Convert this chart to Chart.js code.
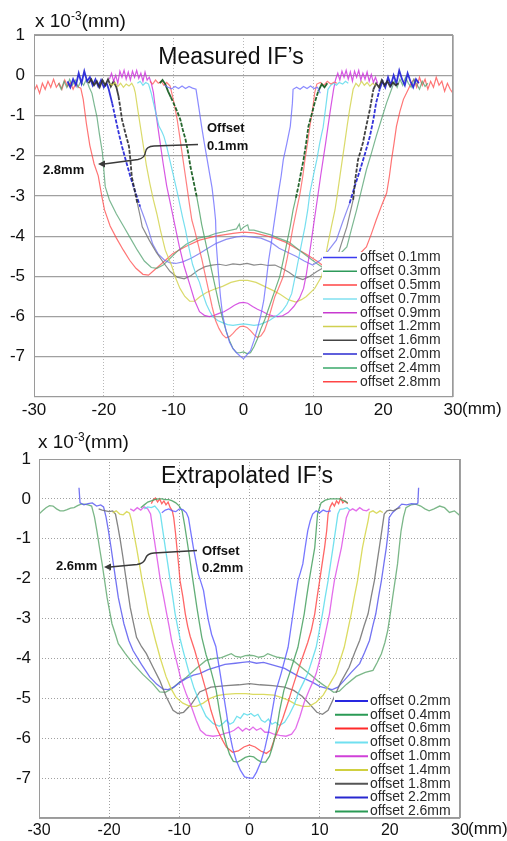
<!DOCTYPE html>
<html><head><meta charset="utf-8">
<script src="https://cdn.jsdelivr.net/npm/chart.js@4.4.0/dist/chart.umd.min.js"></script>
<style>
body{margin:0;background:#fff;width:507px;height:841px;position:relative;overflow:hidden;font-family:"Liberation Sans",Arial,sans-serif;color:#111;}
canvas{position:absolute;left:0;}
#c1{top:0;}
#c2{top:420px;}
.unit{position:absolute;font-size:19px;line-height:19px;white-space:nowrap;}
.unit sup{font-size:12px;vertical-align:7px;line-height:0;}
.mm{position:absolute;font-size:17px;line-height:17px;}
</style></head>
<body>
<canvas id="c1" width="507" height="420" style="width:507px;height:420px"></canvas>
<canvas id="c2" width="507" height="421" style="width:507px;height:421px"></canvas>
<div class="unit" style="left:35px;top:11px">x 10<sup>-3</sup>(mm)</div>
<div class="mm" style="left:462px;top:400px">(mm)</div>
<div class="unit" style="left:38px;top:432px">x 10<sup>-3</sup>(mm)</div>
<div class="mm" style="left:468px;top:820px">(mm)</div>
<script>
// ---------- axis ticks ----------
const xTickValues = [-30,-20,-10,0,10,20,30];
const yGridValues = [1,0,-1,-2,-3,-4,-5,-6,-7,-8];
const yTickLabels = [1,0,-1,-2,-3,-4,-5,-6,-7];

// ---------- Measured IF's (x in mm, y in 1e-3 mm) ----------
const M01 = [[-11.3,-0.25],[-10.8,-0.3],[-10.3,-0.34],[-9.8,-0.28],[-9.3,-0.33],[-8.8,-0.27],[-8.3,-0.33],[-7.8,-0.28],[-7.3,-0.32],[-6.8,-0.35],[-6.4,-0.8],[-6.0,-1.27],[-5.6,-1.7],[-5.2,-2.1],[-4.8,-2.5],[-4.5,-2.8],[-4.2,-3.25],[-4.0,-3.6],[-3.9,-4.2],[-3.6,-4.9],[-3.3,-5.5],[-3.0,-5.95],[-2.5,-6.35],[-2.0,-6.64],[-1.5,-6.8],[-1.0,-6.9],[-0.5,-6.98],[0,-7.05],[0.5,-6.95],[1.0,-6.85],[1.5,-6.6],[2.0,-6.3],[2.5,-5.95],[2.9,-5.6],[3.3,-5.05],[3.6,-4.6],[4.0,-4.15],[4.3,-3.77],[4.7,-3.3],[5.0,-2.93],[5.4,-2.5],[5.7,-2.1],[6.2,-1.7],[6.7,-1.27],[7.0,-0.7],[7.1,-0.35],[7.6,-0.3],[8.1,-0.35],[8.6,-0.28],[9.1,-0.33],[9.6,-0.27],[10.1,-0.33],[10.6,-0.3],[11.0,-0.45]];
const M03 = [[-12.0,-0.2],[-11.6,-0.12],[-11.2,-0.22],[-10.8,-0.4],[-10.4,-0.55],[-10.0,-0.7],[-9.5,-0.9],[-9.05,-1.1],[-8.7,-1.35],[-8.3,-1.6],[-7.9,-1.95],[-7.6,-2.27],[-7.2,-2.6],[-6.7,-3.02],[-6.3,-3.4],[-6.0,-3.7],[-5.5,-4.1],[-5.0,-4.5],[-4.5,-4.9],[-4.0,-5.3],[-3.5,-5.7],[-3.0,-6.05],[-2.5,-6.35],[-2.0,-6.6],[-1.5,-6.8],[-1.0,-6.9],[-0.5,-6.9],[0,-6.88],[0.5,-6.92],[1.0,-6.9],[1.5,-6.75],[2.0,-6.55],[2.5,-6.3],[3.0,-6.1],[3.5,-5.85],[4.0,-5.6],[4.6,-5.3],[5.2,-5.0],[5.7,-4.6],[6.2,-4.18],[6.7,-3.75],[7.1,-3.35],[7.5,-3.05],[7.85,-2.77],[8.2,-2.45],[8.6,-2.1],[9.0,-1.65],[9.3,-1.27],[9.8,-0.95],[10.2,-0.68],[10.7,-0.4],[11.2,-0.22],[11.6,-0.3],[12.0,-0.2]];
const M05 = [[-13.4,-0.15],[-13.0,-0.22],[-12.6,-0.12],[-12.2,-0.2],[-11.8,-0.15],[-11.4,-0.25],[-11.0,-0.18],[-10.5,-0.27],[-10.0,-0.65],[-9.5,-1.1],[-9.15,-1.5],[-8.8,-1.93],[-8.45,-2.35],[-8.1,-2.77],[-7.75,-3.2],[-7.4,-3.6],[-7.0,-3.85],[-6.5,-4.2],[-6.0,-4.55],[-5.5,-4.95],[-5.0,-5.35],[-4.5,-5.75],[-4.0,-6.1],[-3.5,-6.3],[-3.0,-6.45],[-2.5,-6.53],[-2.0,-6.5],[-1.5,-6.42],[-1.0,-6.32],[-0.5,-6.25],[0,-6.24],[0.5,-6.27],[1.0,-6.35],[1.5,-6.45],[2.0,-6.52],[2.5,-6.48],[3.0,-6.35],[3.5,-6.1],[4.0,-5.8],[4.5,-5.5],[5.0,-5.3],[5.7,-5.0],[6.2,-4.6],[6.7,-4.15],[7.1,-3.77],[7.6,-3.35],[8.1,-2.93],[8.5,-2.5],[8.8,-2.1],[9.2,-1.65],[9.5,-1.27],[9.9,-0.85],[10.2,-0.43],[10.5,-0.22],[11.0,-0.18],[11.5,-0.25],[12.0,-0.15],[12.5,-0.22],[13.0,-0.17],[13.4,-0.2]];
const M07 = [[-15.2,-0.2],[-14.8,-0.15],[-14.4,-0.25],[-14.0,-0.18],[-13.6,-0.22],[-13.2,-0.45],[-12.9,-0.68],[-12.5,-0.98],[-12.1,-1.27],[-11.7,-1.4],[-11.4,-1.52],[-11.0,-1.77],[-10.5,-2.15],[-10.0,-2.52],[-9.5,-2.9],[-9.05,-3.27],[-8.7,-3.55],[-8.3,-3.85],[-7.8,-4.3],[-7.3,-4.7],[-6.8,-4.95],[-6.3,-5.15],[-5.8,-5.45],[-5.3,-5.7],[-4.8,-5.88],[-4.4,-6.0],[-3.7,-6.1],[-3.0,-6.15],[-2.3,-6.2],[-1.5,-6.22],[-0.8,-6.2],[0,-6.18],[0.8,-6.2],[1.5,-6.22],[2.3,-6.2],[3.0,-6.15],[3.7,-6.1],[4.4,-6.02],[5.0,-5.95],[5.6,-5.85],[6.2,-5.7],[6.9,-5.43],[7.4,-5.0],[7.85,-4.6],[8.3,-4.2],[8.8,-3.77],[9.2,-3.35],[9.5,-2.93],[10.0,-2.5],[10.5,-2.1],[10.9,-1.7],[11.2,-1.45],[11.4,-1.3],[11.7,-0.9],[12.1,-0.35],[12.5,-0.25],[12.9,-0.2],[13.3,-0.25],[13.7,-0.18],[14.2,-0.22],[14.6,-0.15],[15.0,-0.2]];
const M09 = [[-19.2,-0.1],[-18.9,0.05],[-18.6,-0.15],[-18.3,0.0],[-18.0,-0.2],[-17.7,0.1],[-17.4,-0.05],[-17.1,0.12],[-16.8,-0.1],[-16.5,0.08],[-16.2,-0.12],[-15.9,0.1],[-15.6,-0.05],[-15.3,0.12],[-15.0,-0.08],[-14.7,0.05],[-14.4,-0.15],[-14.1,0.08],[-13.8,-0.12],[-13.5,-0.05],[-13.2,-0.2],[-12.9,-0.43],[-12.5,-1.0],[-12.0,-1.6],[-11.5,-2.2],[-11.0,-2.75],[-10.4,-3.25],[-9.8,-3.75],[-9.2,-4.25],[-8.5,-4.75],[-7.7,-5.2],[-7.0,-5.6],[-6.3,-5.88],[-5.6,-5.97],[-4.9,-6.0],[-4.2,-5.97],[-3.5,-5.92],[-2.8,-5.88],[-2.0,-5.8],[-1.3,-5.72],[-0.6,-5.66],[0,-5.65],[0.6,-5.67],[1.3,-5.75],[2.0,-5.82],[2.8,-5.88],[3.5,-5.95],[4.2,-5.98],[4.9,-6.0],[5.6,-5.98],[6.4,-5.9],[7.2,-5.75],[8.0,-5.55],[8.6,-5.3],[9.0,-4.95],[9.3,-4.6],[9.65,-4.2],[10.0,-3.77],[10.35,-3.35],[10.7,-2.93],[11.05,-2.5],[11.4,-2.1],[11.75,-1.7],[12.1,-1.27],[12.5,-0.8],[12.9,-0.35],[13.2,-0.1],[13.5,0.05],[13.8,-0.12],[14.1,0.1],[14.4,-0.05],[14.7,0.12],[15.0,-0.1],[15.3,0.08],[15.6,-0.15],[15.9,0.1],[16.2,-0.05],[16.5,0.12],[16.8,-0.12],[17.1,0.05],[17.4,-0.1],[17.7,0.08],[18.0,-0.15],[18.3,0.02],[18.6,-0.18],[18.9,-0.05],[19.2,-0.2]];
const M12 = [[-19.2,-0.2],[-18.8,-0.25],[-18.4,-0.18],[-18.0,-0.28],[-17.6,-0.2],[-17.2,-0.3],[-16.8,-0.22],[-16.4,-0.27],[-16.0,-0.2],[-15.7,-0.3],[-15.5,-0.43],[-15.1,-0.9],[-14.7,-1.35],[-14.3,-1.8],[-13.9,-2.25],[-13.4,-2.7],[-12.9,-3.1],[-12.4,-3.45],[-11.9,-3.85],[-11.2,-4.35],[-10.3,-4.73],[-9.7,-5.05],[-9.1,-5.3],[-8.4,-5.5],[-7.7,-5.62],[-7.0,-5.62],[-6.2,-5.5],[-5.3,-5.4],[-4.2,-5.32],[-3.0,-5.25],[-1.8,-5.15],[-0.6,-5.1],[0,-5.1],[0.6,-5.1],[1.8,-5.15],[3.0,-5.25],[4.2,-5.35],[5.3,-5.45],[6.4,-5.58],[7.5,-5.64],[8.3,-5.58],[9.0,-5.5],[10.2,-5.3],[11.2,-5.0],[12.1,-4.18],[12.6,-3.75],[13.1,-3.35],[13.45,-2.95],[13.8,-2.52],[14.15,-2.1],[14.5,-1.68],[14.85,-1.25],[15.2,-0.85],[15.7,-0.35],[16.1,-0.2],[16.5,-0.28],[16.9,-0.15],[17.3,-0.25],[17.7,-0.18],[18.1,-0.27],[18.5,-0.2],[18.9,-0.25]];
const M16 = [[-22.2,-0.2],[-21.8,-0.1],[-21.4,-0.25],[-21.0,-0.15],[-20.6,-0.3],[-20.2,-0.12],[-19.8,-0.25],[-19.4,-0.1],[-19.0,-0.28],[-18.6,-0.15],[-18.2,-0.3],[-17.9,-0.52],[-17.65,-0.8],[-17.4,-1.1],[-16.9,-1.45],[-16.4,-1.77],[-16.2,-2.1],[-16.0,-2.52],[-15.6,-2.85],[-15.2,-3.18],[-14.8,-3.5],[-14.5,-3.77],[-13.5,-4.1],[-12.5,-4.4],[-11.5,-4.65],[-10.5,-4.88],[-9.5,-5.02],[-8.5,-5.06],[-7.5,-4.98],[-6.5,-4.85],[-5.5,-4.76],[-4.5,-4.72],[-3.5,-4.7],[-2.5,-4.73],[-1.5,-4.69],[-0.5,-4.71],[0.5,-4.68],[1.5,-4.72],[2.5,-4.7],[3.5,-4.73],[4.5,-4.72],[5.5,-4.8],[6.5,-4.9],[7.5,-5.02],[8.5,-5.08],[9.5,-5.0],[10.5,-4.88],[11.5,-4.78],[12.5,-4.72],[13.3,-4.6],[14.0,-4.2],[14.8,-3.77],[15.3,-3.4],[15.7,-3.1],[16.0,-2.6],[16.4,-2.1],[16.75,-1.9],[17.1,-1.68],[17.6,-1.25],[18.1,-0.85],[18.6,-0.35],[19.0,-0.2],[19.4,-0.3],[19.8,-0.12],[20.2,-0.25],[20.6,-0.15],[21.0,-0.28],[21.4,-0.18],[21.8,-0.25],[22.2,-0.2]];
const M20 = [[-25.2,-0.15],[-24.8,-0.3],[-24.4,-0.1],[-24.0,-0.25],[-23.6,0.05],[-23.2,-0.2],[-22.8,0.1],[-22.4,-0.15],[-22.0,-0.05],[-21.6,-0.25],[-21.2,-0.1],[-20.8,-0.28],[-20.4,-0.12],[-20.0,-0.3],[-19.6,-0.2],[-19.3,-0.35],[-18.8,-0.7],[-18.3,-1.1],[-17.85,-1.45],[-17.4,-1.77],[-16.8,-2.15],[-16.2,-2.52],[-15.5,-2.9],[-14.8,-3.27],[-14.2,-3.55],[-13.6,-3.85],[-13.0,-4.2],[-12.2,-4.45],[-11.3,-4.6],[-10.6,-4.66],[-9.7,-4.68],[-8.7,-4.64],[-7.5,-4.55],[-6.3,-4.43],[-5.1,-4.3],[-3.9,-4.18],[-2.5,-4.08],[-1.0,-4.02],[0,-4.0],[1.0,-4.02],[2.5,-4.05],[3.9,-4.15],[5.1,-4.3],[6.3,-4.4],[7.5,-4.5],[8.7,-4.62],[9.9,-4.72],[11.0,-4.6],[12.2,-4.35],[13.3,-4.1],[14.2,-3.65],[15.2,-3.18],[15.95,-2.75],[16.7,-2.35],[17.4,-1.95],[18.1,-1.52],[18.6,-1.1],[19.0,-0.68],[19.5,-0.35],[19.9,-0.15],[20.3,-0.3],[20.7,-0.05],[21.1,-0.25],[21.5,0.0],[21.9,-0.2],[22.3,0.12],[22.7,-0.1],[23.1,-0.25],[23.5,0.05],[23.9,-0.15],[24.3,-0.3],[24.7,-0.1],[25.1,-0.2]];
const M24 = [[-26.5,-0.2],[-26.1,-0.35],[-25.7,-0.15],[-25.3,-0.3],[-24.9,-0.1],[-24.5,-0.25],[-24.1,-0.12],[-23.7,-0.3],[-23.3,-0.15],[-22.9,-0.25],[-22.5,-0.1],[-22.1,-0.3],[-21.7,-0.45],[-21.35,-0.75],[-21.0,-1.02],[-20.6,-1.5],[-20.2,-1.93],[-20.0,-2.35],[-19.8,-2.77],[-19.2,-3.1],[-18.2,-3.45],[-17.2,-3.75],[-16.2,-4.05],[-15.2,-4.35],[-14.2,-4.62],[-13.2,-4.78],[-12.4,-4.8],[-11.5,-4.72],[-10.5,-4.55],[-9.3,-4.35],[-8.2,-4.2],[-6.5,-4.05],[-5.0,-4.0],[-3.9,-3.93],[-2.5,-3.88],[-1.0,-3.82],[-0.6,-3.7],[-0.4,-3.85],[0,-3.78],[0.6,-3.72],[0.8,-3.85],[1.5,-3.85],[2.5,-3.9],[3.9,-3.97],[5.0,-4.05],[6.5,-4.15],[8.0,-4.35],[9.5,-4.55],[10.5,-4.68],[11.5,-4.8],[12.5,-4.7],[13.5,-4.5],[14.8,-4.27],[15.5,-3.8],[16.2,-3.35],[16.9,-2.85],[17.6,-2.35],[18.3,-1.95],[19.0,-1.52],[19.75,-1.1],[20.5,-0.68],[21.2,-0.35],[21.6,-0.15],[22.0,-0.3],[22.4,-0.1],[22.8,-0.25],[23.2,-0.05],[23.6,-0.2],[24.0,-0.3],[24.4,-0.1],[24.8,-0.22],[25.2,-0.35],[25.6,-0.15],[26.0,-0.28],[26.4,-0.2]];
const M28 = [[-30.0,-0.4],[-29.6,-0.25],[-29.2,-0.45],[-28.8,-0.2],[-28.4,-0.35],[-28.0,-0.15],[-27.6,-0.3],[-27.2,-0.1],[-26.8,-0.3],[-26.4,-0.2],[-26.0,-0.35],[-25.6,-0.12],[-25.2,-0.28],[-24.8,-0.18],[-24.4,-0.35],[-24.0,-0.2],[-23.6,-0.3],[-23.3,-0.32],[-22.95,-0.6],[-22.5,-1.2],[-22.0,-1.75],[-21.4,-2.2],[-20.8,-2.5],[-20.3,-3.0],[-19.9,-3.35],[-19.1,-3.75],[-18.2,-4.05],[-17.2,-4.35],[-16.3,-4.6],[-15.4,-4.8],[-14.4,-4.95],[-13.6,-4.97],[-12.8,-4.85],[-11.5,-4.65],[-10.1,-4.43],[-8.2,-4.25],[-6.3,-4.1],[-4.0,-4.0],[-1.5,-3.93],[0,-3.9],[1.5,-3.92],[3.0,-3.98],[4.5,-4.05],[6.0,-4.15],[7.5,-4.3],[9.0,-4.45],[10.5,-4.62],[11.5,-4.75],[12.3,-4.85],[13.3,-4.9],[14.5,-4.8],[16.0,-4.55],[17.6,-4.27],[18.3,-3.95],[19.0,-3.6],[19.75,-3.25],[20.5,-2.93],[20.9,-2.5],[21.2,-2.1],[21.55,-1.7],[21.9,-1.27],[22.4,-0.9],[22.9,-0.6],[23.6,-0.35],[24.0,-0.2],[24.4,-0.1],[24.8,-0.3],[25.2,-0.05],[25.6,-0.25],[26.0,-0.1],[26.4,-0.35],[26.8,-0.15],[27.2,-0.3],[27.6,-0.05],[28.0,-0.25],[28.4,-0.15],[28.8,-0.4],[29.2,-0.2],[29.6,-0.35],[30.0,-0.45]];

// ---------- Extrapolated IF's ----------
const E02 = [[-12.5,-0.35],[-12.0,-0.28],[-11.5,-0.25],[-11.0,-0.3],[-10.5,-0.32],[-10.0,-0.25],[-9.5,-0.27],[-9.0,-0.35],[-8.7,-0.47],[-8.35,-0.85],[-8.0,-1.22],[-7.65,-1.55],[-7.3,-1.88],[-6.9,-2.1],[-6.55,-2.3],[-6.2,-2.7],[-5.85,-3.05],[-5.4,-3.4],[-4.8,-3.7],[-4.3,-4.25],[-3.8,-4.8],[-3.3,-5.35],[-2.85,-5.88],[-2.4,-6.25],[-1.9,-6.55],[-1.3,-6.8],[-0.7,-6.97],[0,-7.0],[0.5,-7.0],[1.0,-6.85],[1.6,-6.6],[2.2,-6.25],[2.7,-5.85],[3.2,-5.35],[3.7,-4.85],[4.5,-4.38],[5.0,-4.05],[5.5,-3.72],[5.85,-3.3],[6.2,-2.88],[6.55,-2.45],[6.9,-2.05],[7.25,-1.85],[7.6,-1.63],[7.95,-1.2],[8.3,-0.8],[8.65,-0.55],[9.0,-0.38],[9.5,-0.3],[10.0,-0.35],[10.5,-0.28],[11.0,-0.32],[11.6,-0.3]];
const E04 = [[-15.5,-0.22],[-15.0,-0.15],[-14.5,-0.08],[-14.0,-0.05],[-13.5,-0.02],[-13.0,0.0],[-12.5,0.0],[-12.0,-0.02],[-11.5,-0.02],[-11.0,-0.05],[-10.5,-0.1],[-10.0,-0.18],[-9.6,-0.3],[-9.25,-0.65],[-8.9,-1.05],[-8.55,-1.45],[-8.2,-1.88],[-7.85,-2.3],[-7.5,-2.72],[-7.15,-3.1],[-6.8,-3.47],[-6.2,-3.9],[-5.5,-4.3],[-4.75,-4.8],[-4.3,-5.3],[-3.8,-5.8],[-3.3,-6.15],[-2.85,-6.4],[-2.3,-6.58],[-1.7,-6.6],[-1.2,-6.55],[-0.6,-6.48],[0,-6.45],[0.6,-6.47],[1.2,-6.55],[1.7,-6.6],[2.3,-6.6],[2.85,-6.45],[3.3,-6.2],[3.8,-5.85],[4.3,-5.3],[4.9,-4.8],[5.7,-4.38],[6.3,-4.05],[6.9,-3.72],[7.35,-3.3],[7.8,-2.88],[8.15,-2.45],[8.5,-2.05],[8.9,-1.63],[9.3,-1.22],[9.5,-0.8],[9.7,-0.38],[10.2,-0.1],[10.8,-0.03],[11.5,0.0],[12.2,0.0],[12.8,0.0],[13.5,-0.05],[14.0,-0.1]];
const E06 = [[-14.0,-0.12],[-13.7,-0.02],[-13.4,0.02],[-13.1,-0.08],[-12.8,0.0],[-12.5,-0.12],[-12.2,-0.05],[-11.9,-0.15],[-11.6,-0.08],[-11.3,-0.22],[-11.0,-0.3],[-10.8,-0.47],[-10.55,-0.85],[-10.35,-1.22],[-10.1,-1.65],[-9.9,-2.05],[-9.5,-2.45],[-9.15,-2.88],[-8.8,-3.2],[-8.45,-3.45],[-7.8,-3.8],[-7.0,-4.3],[-6.2,-4.8],[-5.5,-5.3],[-4.75,-5.72],[-4.0,-6.0],[-3.3,-6.22],[-2.4,-6.35],[-1.6,-6.32],[-0.8,-6.22],[0,-6.17],[0.8,-6.22],[1.6,-6.32],[2.4,-6.38],[3.0,-6.3],[3.6,-6.0],[4.2,-5.75],[4.75,-5.5],[5.5,-5.1],[6.15,-4.72],[7.1,-4.2],[7.7,-3.9],[8.3,-3.6],[8.8,-3.3],[9.3,-2.88],[9.65,-2.45],[10.0,-2.05],[10.35,-1.63],[10.7,-1.22],[11.0,-0.8],[11.2,-0.38],[11.5,-0.2],[11.8,-0.1],[12.1,-0.18],[12.4,-0.05],[12.7,-0.12],[13.0,0.02],[13.3,-0.1],[13.6,-0.05],[14.0,-0.12]];
const E08 = [[-15.0,-0.25],[-14.5,-0.2],[-14.0,-0.22],[-13.5,-0.18],[-13.0,-0.28],[-12.7,-0.38],[-12.35,-0.8],[-12.0,-1.22],[-11.65,-1.63],[-11.3,-2.05],[-10.95,-2.45],[-10.6,-2.88],[-10.25,-3.2],[-9.9,-3.5],[-9.4,-3.85],[-8.7,-4.3],[-7.9,-4.75],[-7.0,-5.15],[-6.2,-5.45],[-5.2,-5.63],[-4.3,-5.7],[-3.7,-5.62],[-3.3,-5.55],[-2.8,-5.65],[-2.3,-5.6],[-1.8,-5.45],[-1.3,-5.5],[-0.8,-5.38],[-0.3,-5.42],[0.2,-5.38],[0.7,-5.45],[1.2,-5.4],[1.7,-5.55],[2.2,-5.6],[2.7,-5.52],[3.2,-5.65],[3.7,-5.6],[4.3,-5.68],[5.0,-5.6],[5.7,-5.4],[6.4,-5.15],[7.0,-4.85],[7.7,-4.6],[8.3,-4.38],[8.9,-4.05],[9.5,-3.72],[9.95,-3.3],[10.4,-2.88],[10.8,-2.45],[11.2,-2.05],[11.55,-1.63],[11.9,-1.22],[12.25,-0.8],[12.6,-0.38],[12.9,-0.26],[13.4,-0.25],[13.9,-0.22],[14.3,-0.28]];
const E10 = [[-17.0,-0.25],[-16.5,-0.3],[-16.0,-0.22],[-15.5,-0.28],[-15.0,-0.2],[-14.5,-0.25],[-14.1,-0.38],[-13.75,-0.8],[-13.4,-1.22],[-13.05,-1.63],[-12.7,-2.05],[-12.25,-2.45],[-11.8,-2.88],[-11.45,-3.2],[-11.1,-3.55],[-10.5,-4.0],[-9.8,-4.5],[-9.0,-4.9],[-8.3,-5.2],[-7.6,-5.55],[-7.0,-5.8],[-6.2,-5.92],[-5.2,-5.95],[-4.3,-5.93],[-3.5,-5.88],[-2.8,-5.85],[-2.2,-5.8],[-1.6,-5.72],[-1.0,-5.82],[-0.5,-5.75],[0,-5.8],[0.5,-5.72],[1.0,-5.8],[1.6,-5.75],[2.2,-5.85],[2.8,-5.85],[3.5,-5.9],[4.3,-5.93],[5.2,-5.95],[6.0,-5.9],[6.6,-5.75],[7.2,-5.45],[7.8,-5.1],[8.5,-4.8],[9.0,-4.6],[9.5,-4.38],[10.0,-4.05],[10.4,-3.72],[10.9,-3.3],[11.4,-2.88],[11.75,-2.45],[12.1,-2.05],[12.6,-1.63],[13.1,-1.22],[13.45,-0.85],[13.8,-0.47],[14.2,-0.3],[14.7,-0.25],[15.2,-0.3],[15.7,-0.22],[16.2,-0.28],[16.7,-0.3],[17.1,-0.25]];
const E14 = [[-19.5,-0.35],[-19.0,-0.3],[-18.5,-0.38],[-18.0,-0.4],[-17.5,-0.32],[-17.1,-0.36],[-16.8,-0.55],[-16.45,-0.9],[-16.1,-1.22],[-15.7,-1.63],[-15.3,-2.05],[-14.85,-2.45],[-14.4,-2.88],[-13.9,-3.2],[-13.4,-3.55],[-12.7,-4.0],[-11.9,-4.45],[-11.2,-4.75],[-10.5,-4.97],[-9.5,-5.12],[-8.5,-5.2],[-7.6,-5.2],[-6.6,-5.12],[-5.6,-5.0],[-4.6,-4.93],[-3.5,-4.9],[-2.0,-4.88],[-0.5,-4.88],[0.5,-4.9],[2.0,-4.9],[3.5,-4.92],[4.6,-4.98],[5.6,-5.05],[6.6,-5.15],[7.6,-5.2],[8.5,-5.2],[9.5,-5.1],[10.5,-4.92],[11.4,-4.65],[12.3,-4.38],[12.9,-4.05],[13.5,-3.72],[14.0,-3.3],[14.5,-2.88],[14.95,-2.45],[15.4,-2.05],[15.75,-1.63],[16.1,-1.22],[16.5,-0.88],[16.9,-0.55],[17.1,-0.34],[17.6,-0.3],[18.1,-0.36],[18.6,-0.3],[19.0,-0.34]];
const E18 = [[-21.5,-0.25],[-21.0,-0.28],[-20.5,-0.3],[-20.0,-0.32],[-19.5,-0.3],[-19.1,-0.38],[-18.75,-0.7],[-18.4,-1.05],[-18.05,-1.45],[-17.7,-1.88],[-17.35,-2.3],[-17.0,-2.72],[-16.55,-3.1],[-16.1,-3.47],[-15.4,-3.7],[-14.7,-3.88],[-13.8,-4.2],[-12.8,-4.55],[-11.9,-4.95],[-10.9,-5.3],[-10.2,-5.38],[-9.4,-5.35],[-8.3,-5.15],[-7.1,-4.84],[-5.5,-4.72],[-3.3,-4.68],[-1.5,-4.66],[0,-4.63],[1.5,-4.66],[3.3,-4.68],[5.0,-4.72],[6.3,-4.8],[7.5,-4.95],[8.6,-5.15],[9.6,-5.35],[10.4,-5.4],[11.2,-5.3],[12.0,-5.0],[13.0,-4.6],[14.2,-4.22],[15.0,-3.85],[15.7,-3.55],[16.3,-3.2],[16.9,-2.88],[17.35,-2.45],[17.8,-2.05],[18.15,-1.63],[18.5,-1.22],[18.85,-0.8],[19.2,-0.38],[19.6,-0.3],[20.0,-0.28],[20.5,-0.3],[21.0,-0.25],[21.5,-0.22]];
const E22 = [[-24.3,0.28],[-24.15,-0.1],[-23.6,-0.15],[-23.0,-0.12],[-22.4,-0.1],[-21.8,-0.18],[-21.2,-0.15],[-20.8,-0.2],[-20.45,-0.45],[-20.1,-0.8],[-19.75,-1.2],[-19.4,-1.63],[-19.05,-2.05],[-18.7,-2.47],[-18.3,-2.8],[-17.9,-3.13],[-17.2,-3.55],[-16.6,-3.8],[-15.4,-4.15],[-14.2,-4.47],[-13.2,-4.65],[-12.3,-4.77],[-11.6,-4.78],[-10.8,-4.72],[-9.9,-4.6],[-9.0,-4.5],[-8.0,-4.42],[-7.1,-4.38],[-5.9,-4.28],[-4.75,-4.22],[-3.5,-4.15],[-2.0,-4.12],[-1.0,-4.1],[0,-4.08],[1.0,-4.12],[2.0,-4.1],[3.0,-4.15],[4.0,-4.2],[5.0,-4.25],[6.0,-4.35],[7.0,-4.45],[8.0,-4.52],[9.0,-4.6],[10.0,-4.7],[11.0,-4.75],[11.8,-4.78],[12.6,-4.72],[13.5,-4.55],[14.5,-4.35],[15.7,-4.13],[16.4,-3.85],[17.1,-3.55],[17.55,-3.2],[18.0,-2.88],[18.4,-2.45],[18.8,-2.05],[19.15,-1.63],[19.5,-1.22],[19.75,-0.85],[19.9,-0.47],[20.4,-0.34],[21.0,-0.25],[21.7,-0.13],[22.4,-0.15],[23.1,-0.12],[23.8,-0.13],[24.0,-0.1],[24.1,0.28]];
const E26 = [[-30.0,-0.38],[-29.5,-0.3],[-29.0,-0.22],[-28.5,-0.17],[-28.0,-0.18],[-27.5,-0.25],[-27.0,-0.3],[-26.5,-0.3],[-26.0,-0.27],[-25.5,-0.23],[-25.0,-0.22],[-24.5,-0.17],[-24.0,-0.13],[-23.5,-0.13],[-23.0,-0.15],[-22.5,-0.18],[-22.1,-0.45],[-21.75,-0.8],[-21.4,-1.2],[-21.0,-1.63],[-20.65,-2.05],[-20.3,-2.47],[-19.95,-2.8],[-19.6,-3.13],[-19.1,-3.4],[-18.7,-3.63],[-17.7,-3.88],[-16.6,-4.13],[-15.2,-4.4],[-13.8,-4.63],[-12.8,-4.84],[-12.0,-4.85],[-11.0,-4.75],[-10.0,-4.6],[-9.0,-4.47],[-7.6,-4.25],[-6.2,-4.05],[-5.0,-4.0],[-4.0,-3.98],[-3.3,-3.93],[-2.6,-3.88],[-2.0,-3.95],[-1.3,-3.97],[-0.6,-3.93],[0,-3.92],[0.6,-3.93],[1.3,-3.97],[2.0,-3.95],[2.6,-3.88],[3.3,-3.93],[4.0,-3.97],[5.0,-4.0],[6.2,-4.05],[7.6,-4.25],[9.0,-4.45],[10.0,-4.6],[11.0,-4.72],[12.0,-4.85],[12.8,-4.82],[13.8,-4.65],[15.2,-4.45],[16.5,-4.35],[17.6,-4.3],[18.2,-4.1],[18.8,-3.88],[19.3,-3.6],[19.7,-3.3],[20.05,-2.9],[20.4,-2.47],[20.75,-2.05],[21.1,-1.63],[21.35,-1.2],[21.6,-0.8],[21.95,-0.45],[22.3,-0.22],[23.0,-0.15],[23.7,-0.13],[24.4,-0.18],[25.0,-0.25],[25.6,-0.3],[26.3,-0.25],[27.1,-0.18],[27.8,-0.22],[28.5,-0.34],[29.2,-0.3],[30.0,-0.42]];

const topLabels = ['offset 0.1mm','offset 0.3mm','offset 0.5mm','offset 0.7mm','offset 0.9mm','offset 1.2mm','offset 1.6mm','offset 2.0mm','offset 2.4mm','offset 2.8mm'];
const topSeries = [M01,M03,M05,M07,M09,M12,M16,M20,M24,M28];
const botLabels = ['offset 0.2mm','offset 0.4mm','offset 0.6mm','offset 0.8mm','offset 1.0mm','offset 1.4mm','offset 1.8mm','offset 2.2mm','offset 2.6mm'];
const botSeries = [E02,E04,E06,E08,E10,E14,E18,E22,E26];

// ---------- styles ----------
const topColors = ['rgba(110,110,255,0.8)','rgba(75,160,100,0.8)','rgba(255,85,85,0.75)','rgba(85,215,235,0.8)','rgba(205,45,220,0.8)','rgba(212,212,80,0.85)','rgba(110,110,110,0.8)','rgba(115,115,240,0.8)','rgba(80,160,110,0.75)','rgba(255,70,70,0.75)'];
const topDarkColors = [null,'rgba(25,95,35,0.95)',null,null,null,null,'rgba(45,45,45,0.9)','rgba(30,30,215,0.9)',null,null];
const topLegColors = ['#3c3cf0','#2e9a5a','#ff4545','#80e0f0','#c83ad0','#d0d050','#444444','#2a2ad0','#3aa86a','#ff4545'];
const topWidths = [1.2,1.2,1.2,1.2,1.2,1.2,1.2,1.2,1.2,1.2];
const botColors = ['rgba(95,95,255,0.85)','rgba(70,160,95,0.85)','rgba(255,75,75,0.85)','rgba(90,220,235,0.85)','rgba(222,85,232,0.85)','rgba(215,215,80,0.9)','rgba(110,110,110,0.85)','rgba(90,90,240,0.85)','rgba(100,170,115,0.85)'];
const botDarkColors = [null,null,null,null,null,null,null,null,null];
const botLegColors = ['#2828e0','#2a9a55','#ff2a2a','#70e0f0','#d040d8','#d0d040','#555555','#2828d0','#2a9a55'];
const botWidths = [1.3,1.3,1.3,1.3,1.3,1.3,1.3,1.3,1.3];

function arrowHead(ctx,x,y){ctx.beginPath();ctx.moveTo(x,y);ctx.lineTo(x+7,y-3.5);ctx.lineTo(x+7,y+3.5);ctx.closePath();ctx.fill();}

function makeDecor(cfg){
  return {
    id:'decor',
    afterDatasetsDraw(chart){
      const ctx=chart.ctx, a=chart.chartArea;
      ctx.save();
      ctx.fillStyle='#fff';
      ctx.fillRect(cfg.legX, cfg.legY, a.right-cfg.legX-1, a.bottom-cfg.legY-1);
      ctx.font='14px "Liberation Sans", Arial, sans-serif';
      ctx.textBaseline='middle';
      chart.data.datasets.forEach((d,i)=>{
        const y=cfg.row0+i*cfg.rowH;
        ctx.strokeStyle=d.legendColor; ctx.lineWidth=cfg.legLW;
        ctx.beginPath(); ctx.moveTo(cfg.lx0,y); ctx.lineTo(cfg.lx1,y); ctx.stroke();
        ctx.fillStyle='#2a2a2a'; ctx.textAlign='left';
        ctx.fillText(d.label, cfg.tx, y);
      });
      ctx.strokeStyle='#9a9a9a'; ctx.lineWidth=1;
      ctx.strokeRect(a.left+0.5,a.top+0.5,a.width-1,a.height-1);
      ctx.fillStyle='#111'; ctx.textAlign='center';
      ctx.font='23px "Liberation Sans", Arial, sans-serif';
      ctx.fillText(cfg.title, cfg.titleX, cfg.titleY);
      ctx.strokeStyle='#3a3a3a'; ctx.fillStyle='#3a3a3a'; ctx.lineWidth=1.4;
      const p=cfg.arrow;
      ctx.beginPath(); ctx.moveTo(p[0],p[1]); ctx.lineTo(p[2],p[3]);
      ctx.quadraticCurveTo(p[4],p[5],p[6],p[7]);
      ctx.quadraticCurveTo(p[8],p[9],p[10],p[11]);
      ctx.lineTo(p[12]+6,p[13]); ctx.stroke();
      arrowHead(ctx,p[12],p[13]);
      ctx.fillStyle='#111'; ctx.textAlign='left';
      ctx.font='bold 13px "Liberation Sans", Arial, sans-serif';
      cfg.notes.forEach(n=>ctx.fillText(n[0],n[1],n[2]));
      ctx.restore();
    }
  };
}

function buildChart(id, labels, series, colors, darkColors, legColors, widths, o, decor){
  const edgeX = v => v===-30||v===30;
  const edgeY = v => v===1||v===-8;
  return new Chart(document.getElementById(id), {
    type:'line',
    data:{datasets: series.map((s,i)=>{
      const ds = {label:labels[i], data:s.map(p=>({x:p[0],y:p[1]})), borderColor:colors[i], legendColor:legColors[i], borderWidth:widths[i], pointRadius:0, tension:0, fill:false};
      if (darkColors[i]) {
        const dk = darkColors[i], lt = colors[i];
        ds.segment = {
          borderColor: c => (c.p0.parsed.y > -3.3 && c.p1.parsed.y > -3.3) ? dk : lt,
          borderWidth: c => (c.p0.parsed.y > -3.3 && c.p1.parsed.y > -3.3) ? 1.8 : widths[i],
          borderDash: c => (c.p0.parsed.y > -3.3 && c.p1.parsed.y > -3.3 && c.p0.parsed.y < -0.45) ? [4,1.5] : []
        };
      }
      return ds;
    })},
    options:{
      responsive:false, animation:false, events:[],
      layout:{padding:{top:o.padTop,right:o.padRight,left:0,bottom:0}},
      plugins:{legend:{display:false}, tooltip:{enabled:false}, title:{display:false}},
      scales:{
        x:{type:'linear', min:-30, max:30,
          afterBuildTicks:s=>{s.ticks=xTickValues.map(v=>({value:v}));},
          afterFit:s=>{s.height=o.xh;},
          ticks:{maxRotation:0, autoSkip:false, padding:o.xpad, color:'#111', font:{size:o.xfont, family:'"Liberation Sans", Arial, sans-serif'}, callback:v=>String(v)},
          grid:{drawTicks:false, color:o.vGridColor, lineWidth:1},
          border:{display:false, dash:c=> (c.tick && edgeX(c.tick.value)) ? [] : o.vDash}
        },
        y:{type:'linear', min:-8, max:1,
          afterBuildTicks:s=>{s.ticks=yGridValues.map(v=>({value:v}));},
          afterFit:s=>{s.width=o.yw;},
          ticks:{padding:o.ypad, color:'#111', font:{size:17, family:'"Liberation Sans", Arial, sans-serif'}, callback:v=> yTickLabels.includes(v) ? String(v) : ''},
          grid:{drawTicks:false, color:o.hGridColor, lineWidth:o.hGridW},
          border:{display:false, dash:c=> (c.tick && edgeY(c.tick.value)) ? [] : o.hDash}
        }
      }
    },
    plugins:[decor]
  });
}

buildChart('c1', topLabels, topSeries, topColors, topDarkColors, topLegColors, topWidths,
  {padTop:35, padRight:54, xh:23, yw:34, ypad:9, xpad:3, xfont:17, vGridColor:'#b8b8b8', vDash:[1,2], hGridColor:'#a0a0a0', hGridW:1.2, hDash:[]},
  makeDecor({legX:322, legY:252, lx0:323, lx1:357, tx:360, row0:257.5, rowH:13.8, legLW:1.5,
    title:'Measured IF\u2019s', titleX:231, titleY:58,
    arrow:[198,144.5, 154,146, 146,146.5,145.5,152, 145,158,138,159.5, 98,164],
    notes:[['Offset',207,128],['0.1mm',207,146],['2.8mm',43,170]]}));

buildChart('c2', botLabels, botSeries, botColors, botDarkColors, botLegColors, botWidths,
  {padTop:39, padRight:47, xh:23, yw:39, ypad:8, xpad:3, xfont:16, vGridColor:'#a0a0a0', vDash:[1,2], hGridColor:'#a0a0a0', hGridW:1, hDash:[1,2]},
  makeDecor({legX:334, legY:273, lx0:335, lx1:368, tx:370, row0:281, rowH:13.8, legLW:2,
    title:'Extrapolated IF\u2019s', titleX:247, titleY:57,
    arrow:[197,130.5, 154,133, 147,133.5,145.5,138.5, 144,143.5,137,144.5, 104,147],
    notes:[['Offset',202,131],['0.2mm',202,148],['2.6mm',56,146]]}));
</script>
</body></html>
